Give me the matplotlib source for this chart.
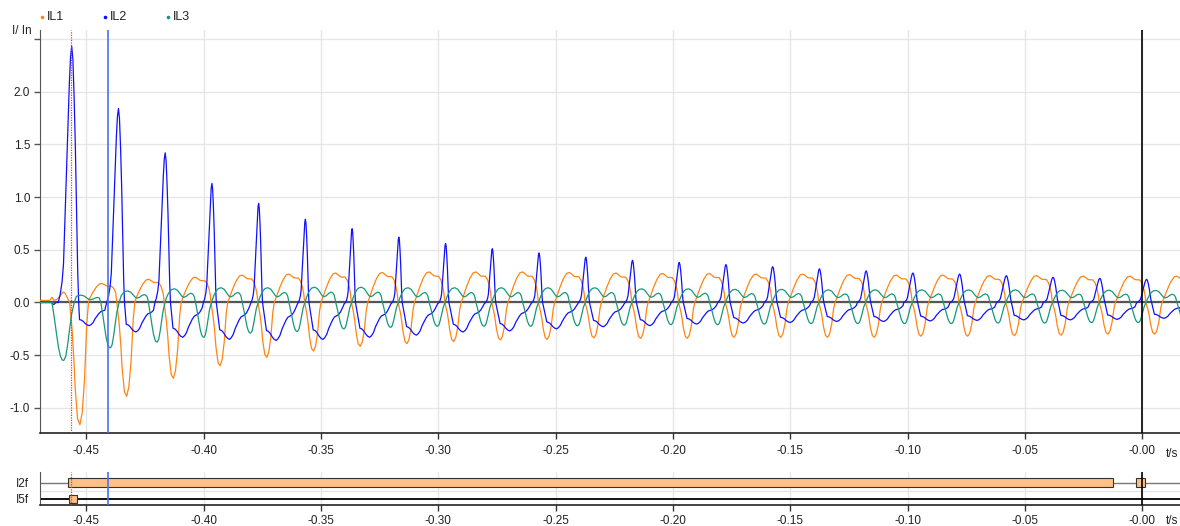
import numpy as np
import matplotlib
matplotlib.use("Agg")
import matplotlib.pyplot as plt
from matplotlib.lines import Line2D

# ---------------- data ----------------
period = 0.01992          # s, one mains cycle
first_peak = -0.4563      # s, time of the first IL2 inrush peak
n_cycles = 24

# IL2 (blue): inrush pulse per cycle + negative part between pulses
il2_peak = [2.43, 1.84, 1.42, 1.13, 0.94, 0.79, 0.70, 0.62, 0.56, 0.51, 0.47, 0.43,
            0.40, 0.38, 0.36, 0.34, 0.32, 0.30, 0.28, 0.27, 0.255, 0.24, 0.23, 0.22]
il2_width = [2.07, 1.8, 1.57, 1.3, 1.15, 1.07, 1.0, 1.0, 1.0, 1.0, 1.05, 1.1,
             1.15, 1.2, 1.25, 1.3, 1.3, 1.35, 1.4, 1.45, 1.5, 1.5, 1.5, 1.5]
il2_trough = [0.22, 0.28, 0.33, 0.35, 0.36, 0.35, 0.33, 0.31, 0.28, 0.27, 0.25, 0.23,
              0.22, 0.205, 0.195, 0.19, 0.18, 0.18, 0.175, 0.17, 0.165, 0.165, 0.16, 0.15]
il2_pulse_off = [-0.14, -0.12, -0.10, -0.085, -0.07, -0.055, -0.04, -0.025, -0.012, 0.0,
                 0.012, 0.025, 0.038, 0.05, 0.062, 0.072]
il2_pulse_val = [0.0, 0.03, 0.08, 0.15, 0.32, 0.5, 0.68, 0.85, 0.96, 1.0,
                 0.95, 0.8, 0.6, 0.36, 0.12, 0.0]
il2_base_pos = [0.167, 0.208, 0.25, 0.292, 0.333, 0.375, 0.417, 0.458, 0.5, 0.542,
                0.583, 0.625, 0.667, 0.708, 0.75, 0.792, 0.833]
il2_base_val = [-0.74, -0.76, -0.82, -0.91, -0.97, -1.0, -0.95, -0.86, -0.70, -0.58,
                -0.47, -0.39, -0.36, -0.33, -0.26, -0.15, -0.03]
il2_pre_t = [-0.4698, -0.4650, -0.4640, -0.4630]
il2_pre_v = [0.0, 0.0, -0.02, 0.0]

# IL1 (orange): negative dip per cycle + flat-topped positive part
il1_phase = 0.175
il1_dip = [1.16, 0.89, 0.72, 0.60, 0.52, 0.46, 0.415, 0.39, 0.37, 0.355, 0.35, 0.335,
           0.34, 0.34, 0.33, 0.33, 0.33, 0.33, 0.32, 0.32, 0.315, 0.31, 0.30, 0.30]
il1_width = [1.15, 1.1, 1.05, 1.02, 1.0, 1.0, 1.0, 1.0, 1.0, 1.0, 1.0, 1.0,
             1.0, 1.0, 1.0, 1.0, 1.0, 1.0, 1.0, 1.0, 1.0, 1.0, 1.0, 1.0]
il1_top = [0.18, 0.22, 0.24, 0.26, 0.27, 0.28, 0.285, 0.29, 0.29, 0.29, 0.285, 0.28,
           0.275, 0.275, 0.27, 0.27, 0.265, 0.26, 0.26, 0.255, 0.255, 0.25, 0.25, 0.25]
il1_dip_off = [-0.19, -0.143, -0.114, -0.086, -0.043, 0.0, 0.043, 0.086, 0.107, 0.129, 0.16]
il1_dip_val = [0.0, -0.24, -0.45, -0.71, -0.95, -1.0, -0.9, -0.63, -0.4, -0.17, 0.0]
il1_top_pos = [0.205, 0.275, 0.345, 0.415, 0.475, 0.525, 0.575, 0.625, 0.675, 0.725, 0.765, 0.79]
il1_top_val = [0.2, 0.52, 0.79, 0.97, 1.0, 0.94, 0.87, 0.86, 0.86, 0.74, 0.52, 0.3]
il1_pre_t = [-0.4698, -0.4656, -0.4647, -0.4639, -0.4626, -0.4613, -0.4600, -0.4592]
il1_pre_v = [0.02, 0.02, 0.05, 0.02, 0.03, 0.06, 0.10, 0.09]

# IL3 (teal): negative dip per cycle + double-humped positive part
il3_phase = -0.17
il3_trough = [0.55, 0.43, 0.375, 0.33, 0.29, 0.275, 0.25, 0.235, 0.225, 0.225, 0.225, 0.22,
              0.215, 0.21, 0.21, 0.205, 0.20, 0.20, 0.20, 0.20, 0.195, 0.195, 0.19, 0.19, 0.19]
il3_width = [1.4, 1.15, 1.05, 1.0, 1.0, 1.0, 1.0, 1.0, 1.0, 1.0, 1.0, 1.0,
             1.0, 1.0, 1.0, 1.0, 1.0, 1.0, 1.0, 1.0, 1.0, 1.0, 1.0, 1.0, 1.0]
il3_top = [0.07, 0.11, 0.13, 0.14, 0.14, 0.145, 0.145, 0.14, 0.14, 0.14, 0.14, 0.14,
           0.13, 0.13, 0.125, 0.125, 0.12, 0.12, 0.12, 0.12, 0.12, 0.117, 0.117, 0.115, 0.115]
il3_dip_off = [-0.18, -0.14, -0.11, -0.08, -0.05, -0.025, 0.0, 0.03, 0.06, 0.09, 0.12, 0.16]
il3_dip_val = [0.0, -0.3, -0.55, -0.78, -0.93, -0.99, -1.0, -0.93, -0.72, -0.45, -0.2, 0.0]
il3_top_pos = [0.19, 0.23, 0.27, 0.31, 0.37, 0.43, 0.48, 0.53, 0.57, 0.62, 0.67, 0.72, 0.76, 0.79]
il3_top_val = [0.3, 0.6, 0.82, 0.95, 1.0, 0.9, 0.68, 0.45, 0.38, 0.45, 0.6, 0.68, 0.62, 0.45]
il3_pre_t = [-0.4698, -0.4660]
il3_pre_v = [0.0, 0.0]

# harmonic-blocking bars (lower panel)
rows = ["I5f", "I2f"]
i2f_start = [-0.4578, -0.0027]
i2f_end = [-0.0126, 0.0013]
i5f_start = [-0.4573]
i5f_end = [-0.4542]

# cursors
cursor_red = -0.4566
cursor_blue = -0.4410
cursor_black = 0.0

x_ticks = [-0.45, -0.40, -0.35, -0.30, -0.25, -0.20, -0.15, -0.10, -0.05, 0.0]
x_labels = ["-0.45", "-0.40", "-0.35", "-0.30", "-0.25", "-0.20", "-0.15", "-0.10", "-0.05", "-0.00"]
y_ticks = [-1.0, -0.5, 0.0, 0.5, 1.0, 1.5, 2.0, 2.5]
y_labels = ["-1.0", "-0.5", "0.0", "0.5", "1.0", "1.5", "2.0", ""]
x_range = (-0.46982, 0.01611)
y_range = (-1.238, 2.585)

series_names = ["IL1", "IL2", "IL3"]
series_colors = ["#ff8412", "#1010ff", "#16997a"]


# ---------------- build the traces from cycle features ----------------
def build(centers, dip_amp, dip_w, dip_off, dip_val, mid_amp, mid_pos, mid_val, pre_t, pre_v):
    t = list(pre_t)
    v = list(pre_v)
    off = np.asarray(dip_off)
    dv = np.asarray(dip_val)
    n = len(centers)
    for k in range(n):
        c = centers[k]
        t.extend(c + off * dip_w[k] * period)
        v.extend(dv * dip_amp[k])
        end = off[-1] * dip_w[k]
        nxt = 1 + off[0] * dip_w[min(k + 1, n - 1)]
        for p, m in zip(mid_pos, mid_val):
            if end + 0.01 < p < nxt - 0.01:
                t.append(c + p * period)
                v.append(m * mid_amp[k])
    return np.array(t), np.array(v)


peaks = first_peak + period * np.arange(n_cycles)
t2, v2 = build(peaks, il2_peak, il2_width, il2_pulse_off, il2_pulse_val,
               il2_trough, il2_base_pos, il2_base_val, il2_pre_t, il2_pre_v)
t1, v1 = build(peaks + il1_phase * period, il1_dip, il1_width, il1_dip_off, il1_dip_val,
               il1_top, il1_top_pos, il1_top_val, il1_pre_t, il1_pre_v)
peaks3 = first_peak + period * np.arange(len(il3_trough))
t3, v3 = build(peaks3 + il3_phase * period, il3_trough, il3_width, il3_dip_off, il3_dip_val,
               il3_top, il3_top_pos, il3_top_val, il3_pre_t, il3_pre_v)

# ---------------- figure ----------------
plt.rcParams['font.family'] = ['Liberation Sans', 'DejaVu Sans']
W, H = 1180, 526
fig = plt.figure(figsize=(W / 100, H / 100), dpi=100)
ax = fig.add_axes([40 / W, 1 - 433 / H, 1140 / W, 403 / H])
ax2 = fig.add_axes([40 / W, 1 - 505 / H, 1140 / W, 33 / H])

grid_c = "#e6e6e6"
for a in (ax, ax2):
    a.set_xlim(*x_range)
    a.set_xticks(x_ticks)
    a.set_xticklabels(x_labels)
    a.grid(axis="x", color=grid_c, lw=1)
    a.set_axisbelow(True)
    for s in ("top", "right"):
        a.spines[s].set_visible(False)
    a.spines["left"].set_color("#555555")
    a.spines["bottom"].set_color("#222222")
    a.spines["bottom"].set_linewidth(1.2)
    a.tick_params(axis="x", length=4, width=1, color="#333333", labelsize=8.5, labelcolor="#222222")
    a.axvline(cursor_red, color="#e8401c", lw=0.9, ls=(0, (1, 1)), zorder=6)
    a.axvline(cursor_blue, color="#4d70f5", lw=1.2, zorder=6)
    a.axvline(cursor_black, color="black", lw=1.2, zorder=6)

ax.set_ylim(*y_range)
ax.set_yticks(y_ticks)
ax.set_yticklabels(y_labels)
ax.grid(axis="y", color=grid_c, lw=1)
ax.tick_params(axis="y", length=4, width=1, color="#555555", labelsize=8.5, labelcolor="#222222", pad=3)
ax.tick_params(axis="x", pad=5)
ax.axhline(0, color="#555555", lw=1.6, zorder=2)

for (tt, vv), col in zip([(t1, v1), (t2, v2), (t3, v3)], series_colors):
    ax.plot(tt, vv, color=col, lw=0.9, zorder=3, solid_joinstyle="round")

# lower panel
ax2.set_ylim(-0.37, 1.66)
ax2.set_yticks([0, 1])
ax2.set_yticklabels(rows)
ax2.tick_params(axis="y", length=0, labelsize=8.5, labelcolor="#222222", pad=8)
ax2.tick_params(axis="x", pad=3)
ax2.axhline(0.5, color=grid_c, lw=1, zorder=1)
ax2.axhline(1, color="#777777", lw=1, zorder=2)
ax2.axhline(0, color="black", lw=1.3, zorder=2)
ax2.barh([1] * len(i2f_start), np.array(i2f_end) - np.array(i2f_start), left=i2f_start,
         height=0.55, color="#fdc086", edgecolor="#333333", lw=0.8, zorder=3)
ax2.barh([0] * len(i5f_start), np.array(i5f_end) - np.array(i5f_start), left=i5f_start,
         height=0.55, color="#fdc086", edgecolor="#333333", lw=0.8, zorder=3)

# axis captions
fig.text(32 / W, 1 - 31 / H, "I/ In", ha="right", va="center", fontsize=8.5, color="#222222")
fig.text(1178 / W, 1 - 454 / H, "t/s", ha="right", va="center", fontsize=8.5, color="#222222")
fig.text(1178 / W, 1 - 521 / H, "t/s", ha="right", va="center", fontsize=8.5, color="#222222")

# legend
leg_x = [42, 105, 168]
for name, col, lx in zip(series_names, series_colors, leg_x):
    fig.add_artist(Line2D([lx / W], [1 - 17 / H], marker="o", ms=1.6, color=col,
                          transform=fig.transFigure))
    fig.text((lx + 5) / W, 1 - 17 / H, name, ha="left", va="center", fontsize=9, color="#222222")

fig.savefig("out.png", dpi=100)
